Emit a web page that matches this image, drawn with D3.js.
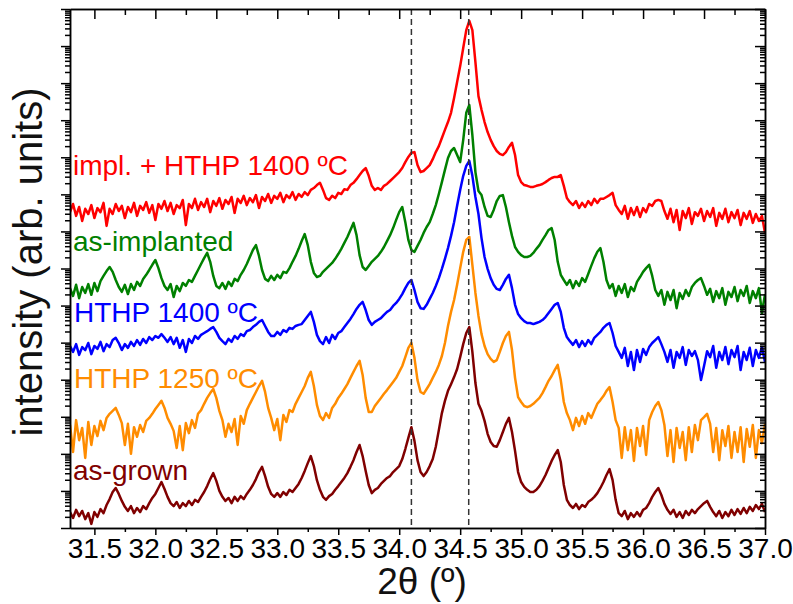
<!DOCTYPE html>
<html>
<head>
<meta charset="utf-8">
<script src="https://cdn.jsdelivr.net/npm/d3@7"></script>
<style>
  body { margin: 0; background: #fff; }
  text { font-family: "Liberation Sans", Arial, sans-serif; }
</style>
</head>
<body>
<svg id="chart"></svg>
<script>
const width = 793;
const height = 604;

// scan: 2theta from 31.3 deg in 0.025 deg steps
const scanStart = 31.3;
const scanStep = 0.025;

const seriesNames = ['as-grown', 'HTHP 1250 ºC', 'HTHP 1400 ºC', 'as-implanted', 'impl. + HTHP 1400 ºC'];

// log10 of intensity (arb. units), curves shifted vertically for clarity
const asGrown = [
    0.43,0.27,0.49,0.32,0.46,0.24,0.40,0.11, 0.43,0.30,0.51,0.40,0.62,0.78,0.97,1.08,
    0.92,0.73,0.57,0.46,0.59,0.40,0.54,0.43, 0.59,0.51,0.67,0.81,0.92,1.08,1.24,1.05,
    0.84,0.67,0.59,0.70,0.54,0.67,0.59,0.73, 0.62,0.76,0.70,0.84,0.97,1.13,1.32,1.48,
    1.27,1.00,0.84,0.73,0.81,0.67,0.84,0.73, 0.86,0.78,0.92,1.03,1.16,1.32,1.51,1.65,
    1.40,1.11,0.92,0.84,0.94,0.84,0.97,0.89, 1.03,0.97,1.08,1.19,1.35,1.54,1.75,1.94,
    1.67,1.29,1.03,0.84,0.76,0.86,0.92,1.03, 1.13,1.24,1.35,1.48,1.65,1.83,2.05,2.24,
    1.94,1.54,1.16,0.94,1.03,1.08,1.19,1.27, 1.35,1.40,1.51,1.59,1.67,1.86,2.13,2.43,
    2.72,2.35,1.83,1.51,1.40,1.51,1.67,1.86, 2.19,2.64,3.10,3.43,3.70,3.88,4.07,4.29,
    4.61,4.96,5.26,5.42,4.75,3.91,3.35,3.16, 2.89,2.54,2.32,2.21,2.19,2.37,2.59,2.81,
    2.97,2.59,2.08,1.51,1.24,1.11,1.03,0.97, 0.97,1.03,1.13,1.27,1.43,1.62,1.81,1.97,
    2.10,1.78,1.16,0.76,0.62,0.54,0.65,0.51, 0.62,0.57,0.70,0.76,0.84,0.94,1.08,1.24,
    1.43,1.59,1.29,0.76,0.40,0.32,0.46,0.24, 0.40,0.30,0.43,0.32,0.49,0.54,0.67,0.84,
    0.97,1.08,0.89,0.65,0.49,0.38,0.49,0.30, 0.43,0.27,0.46,0.35,0.49,0.40,0.51,0.59,
    0.67,0.73,0.57,0.43,0.32,0.46,0.27,0.43, 0.32,0.49,0.35,0.51,0.38,0.54,0.40,0.57,
    0.46,0.62,0.51,0.65,0.43
];
const hthp1250 = [
    2.78,2.05,2.91,2.37,2.70,1.89,2.86,2.24, 2.75,2.48,2.89,2.64,2.97,3.08,3.16,3.24,
    3.05,2.83,2.24,2.81,2.00,2.72,2.46,2.78, 2.59,2.89,2.97,3.08,3.21,3.32,3.43,3.24,
    2.97,2.81,2.62,2.16,2.75,2.10,2.83,2.56, 2.91,2.70,3.08,3.18,3.35,3.51,3.64,3.75,
    3.51,3.16,2.91,2.46,2.81,2.59,2.94,2.24, 3.02,2.81,3.18,3.35,3.51,3.67,3.83,3.97,
    3.67,3.24,2.97,2.64,2.94,2.37,3.05,2.86, 3.18,3.13,3.35,3.51,3.67,3.83,4.05,4.21,
    3.83,3.32,3.02,2.91,3.10,2.97,3.24,3.35, 3.51,3.62,3.75,3.88,4.05,4.21,4.37,4.51,
    4.13,3.51,3.13,3.13,3.29,3.40,3.51,3.62, 3.72,3.83,3.94,4.05,4.21,4.37,4.61,4.86,
    4.99,4.59,3.99,3.67,3.62,3.75,3.88,4.05, 4.21,4.40,4.64,4.99,5.45,5.83,6.15,6.56,
    7.01,7.45,7.77,7.85,7.10,6.34,5.72,5.23, 4.91,4.69,4.56,4.48,4.53,4.75,4.99,5.18,
    5.29,4.80,4.05,3.53,3.40,3.29,3.26,3.29, 3.35,3.43,3.51,3.64,3.80,3.97,4.10,4.26,
    4.40,3.99,3.40,3.10,2.91,2.64,2.97,2.75, 3.02,2.81,3.10,2.97,3.16,3.35,3.45,3.56,
    3.70,3.80,3.40,2.91,2.70,1.89,2.72,2.10, 2.64,1.81,2.70,2.21,2.75,1.97,2.91,3.13,
    3.29,3.40,3.18,2.78,1.94,2.64,1.78,2.70, 2.16,2.59,1.83,2.72,2.05,2.78,2.37,2.91,
    2.99,3.08,2.81,2.05,2.70,1.83,2.64,2.21, 2.75,1.89,2.59,2.05,2.72,1.78,2.67,2.19,
    2.78,1.89,2.64,2.29,2.81
];
const hthp1400 = [
    4.91,4.75,4.96,4.67,4.88,4.80,4.99,4.69, 4.91,4.83,5.02,4.77,4.96,4.88,5.07,5.13,
    4.99,4.80,4.96,4.86,5.02,4.91,5.07,4.94, 5.10,4.99,5.15,5.07,5.18,5.13,5.23,5.13,
    5.02,5.15,4.96,5.13,4.86,5.07,4.75,5.10, 4.99,5.18,5.10,5.21,5.26,5.31,5.37,5.42,
    5.29,5.13,5.04,4.96,5.10,5.02,5.18,5.10, 5.23,5.18,5.31,5.34,5.42,5.48,5.56,5.61,
    5.45,5.29,5.18,5.18,5.29,5.21,5.34,5.29, 5.40,5.37,5.45,5.48,5.50,5.61,5.72,5.83,
    5.56,5.21,5.04,4.96,5.15,4.99,5.21,5.10, 5.26,5.31,5.42,5.53,5.64,5.77,5.91,6.02,
    6.10,5.88,5.61,5.48,5.56,5.61,5.66,5.75, 5.83,5.88,5.99,6.07,6.18,6.31,6.47,6.61,
    6.69,6.42,6.10,5.93,5.91,6.02,6.18,6.34, 6.53,6.74,6.99,7.26,7.55,7.88,8.25,8.69,
    9.12,9.50,9.77,9.90,9.50,8.93,8.47,7.82, 7.31,6.99,6.74,6.56,6.45,6.42,6.56,6.72,
    6.83,6.47,6.02,5.77,5.66,5.58,5.53,5.53, 5.50,5.53,5.56,5.61,5.69,5.80,5.91,6.02,
    6.07,5.83,5.40,5.15,5.04,4.94,5.07,4.88, 5.04,4.91,5.07,4.96,5.13,5.21,5.29,5.40,
    5.48,5.53,5.26,4.91,4.75,4.59,4.86,4.37, 4.75,4.26,4.80,4.48,4.83,4.67,4.88,4.99,
    5.07,5.15,4.96,4.75,4.48,4.80,4.32,4.75, 4.59,4.88,4.40,4.80,4.64,4.77,4.53,3.99,
    4.37,4.77,4.61,4.91,4.32,4.75,4.53,4.88, 4.42,4.80,4.61,4.91,4.26,4.75,4.53,4.86,
    4.37,4.80,4.59,4.88,4.48
];
const asImplanted = [
    6.47,6.26,6.56,6.20,6.50,6.34,6.58,6.29, 6.61,6.39,6.66,6.80,6.93,7.04,6.91,6.69,
    6.50,6.37,6.56,6.31,6.58,6.42,6.64,6.53, 6.72,6.83,6.96,7.10,7.23,7.01,6.74,6.53,
    6.42,6.58,6.23,6.53,6.39,6.61,6.53,6.69, 6.64,6.80,6.96,7.12,7.28,7.42,7.18,6.80,
    6.53,6.47,6.61,6.45,6.64,6.53,6.72,6.66, 6.83,6.96,7.12,7.31,7.50,7.63,7.34,6.96,
    6.72,6.66,6.80,6.69,6.83,6.74,6.91,6.88, 7.01,7.18,7.34,7.53,7.74,7.93,7.63,7.18,
    6.88,6.77,6.80,6.91,6.99,7.07,7.15,7.26, 7.39,7.53,7.69,7.85,8.04,8.23,7.90,7.36,
    7.04,6.96,7.07,7.18,7.26,7.34,7.45,7.58, 7.74,7.90,8.09,8.31,8.52,8.66,8.25,7.77,
    7.50,7.45,7.61,7.77,7.96,8.12,8.25,8.47, 8.71,9.01,9.33,9.66,9.98,10.17,10.25,10.06,
    9.87,10.47,11.20,11.41,10.60,9.60,9.09,8.98, 8.66,8.42,8.39,8.58,8.82,8.96,8.98,8.66,
    8.25,7.88,7.58,7.45,7.36,7.31,7.31,7.34, 7.42,7.53,7.63,7.77,7.90,8.04,8.09,7.77,
    7.18,6.83,6.69,6.56,6.69,6.47,6.66,6.53, 6.74,6.64,6.85,7.07,7.28,7.45,7.55,7.18,
    6.69,6.47,6.58,6.26,6.53,6.34,6.58,6.23, 6.50,6.39,6.64,6.77,6.91,7.01,7.10,6.80,
    6.42,6.26,6.42,6.02,6.37,6.15,6.42,5.93, 6.34,6.18,6.42,6.26,6.50,6.61,6.69,6.74,
    6.53,6.29,6.45,6.10,6.39,6.20,6.47,6.02, 6.37,6.23,6.50,6.12,6.42,6.26,6.53,6.07,
    6.39,6.20,6.47,5.80,6.31
];
const implHthp1400 = [
    8.52,8.74,8.42,8.66,8.28,8.61,8.47,8.71, 8.36,8.63,8.52,8.77,8.15,8.61,8.47,8.74,
    8.55,8.69,8.36,8.66,8.52,8.77,8.42,8.69, 8.58,8.79,8.50,8.71,8.31,8.74,8.61,8.82,
    8.55,8.77,8.47,8.71,8.63,8.85,8.17,8.74, 8.63,8.88,8.58,8.79,8.66,8.88,8.52,8.82,
    8.69,8.90,8.61,8.85,8.74,8.93,8.50,8.88, 8.77,8.96,8.71,8.90,8.79,8.98,8.63,8.93,
    8.82,9.01,8.77,8.96,8.88,9.04,8.79,8.98, 8.90,9.06,8.85,9.01,8.93,9.06,8.98,9.12,
    9.17,9.25,9.31,9.12,8.90,8.85,8.96,8.90, 9.04,9.01,9.14,9.12,9.25,9.31,9.41,9.52,
    9.63,9.71,9.50,9.23,9.12,9.17,9.12,9.23, 9.28,9.36,9.44,9.52,9.60,9.71,9.87,10.01,
    10.12,10.14,9.79,9.60,9.63,9.71,9.79,9.95, 10.14,10.30,10.52,10.74,10.95,11.20,11.60,12.03,
    12.46,12.95,13.43,13.68,13.43,12.57,11.65,11.28, 10.95,10.68,10.47,10.30,10.17,10.09,10.06,10.14,
    10.28,10.39,10.06,9.52,9.33,9.25,9.23,9.20, 9.20,9.23,9.25,9.28,9.33,9.39,9.44,9.47,
    9.47,9.52,9.23,8.90,8.79,8.71,8.82,8.63, 8.77,8.66,8.82,8.71,8.88,8.77,8.88,8.88,
    8.93,8.98,9.04,8.71,8.58,8.47,8.69,8.34, 8.63,8.44,8.66,8.39,8.63,8.52,8.74,8.69,
    8.82,8.85,8.82,8.55,8.34,8.61,8.25,8.58, 8.04,8.55,8.36,8.63,8.20,8.52,8.42,8.61,
    8.28,8.55,8.39,8.63,8.15,8.50,8.34,8.61, 8.25,8.52,8.36,8.58,8.17,8.50,8.34,8.55,
    8.23,8.47,8.28,8.42,7.96
];

const xTickLabels = ['31.5', '32.0', '32.5', '33.0', '33.5', '34.0', '34.5', '35.0', '35.5', '36.0', '36.5', '37.0'];
const markerLines = [34.1, 34.57];

const series = [asGrown, hthp1250, hthp1400, asImplanted, implHthp1400];
const colors = ['#800000', '#ff8c00', '#0000ff', '#008000', '#ff0000'];
const labelPos = [[73, 480], [74, 388], [74, 322], [73, 251], [73, 175]];

const plot = { left: 70, right: 765, top: 9, bottom: 528 };

const svg = d3.select('#chart')
    .attr('width', width)
    .attr('height', height);

const x = d3.scaleLinear().domain([31.3, 37.0]).range([plot.left, plot.right]);
const y = d3.scaleLog().domain([1, 1e14]).range([plot.bottom, plot.top]);

svg.append('clipPath').attr('id', 'clip')
    .append('rect')
    .attr('x', plot.left).attr('y', plot.top)
    .attr('width', plot.right - plot.left)
    .attr('height', plot.bottom - plot.top);

const line = d3.line()
    .x((d, i) => x(scanStart + i * scanStep))
    .y(d => y(Math.pow(10, d)));

const curves = svg.append('g').attr('clip-path', 'url(#clip)');
series.forEach((s, k) => {
    curves.append('path')
        .datum(s)
        .attr('d', line)
        .attr('fill', 'none')
        .attr('stroke', colors[k])
        .attr('stroke-width', 2.5)
        .attr('stroke-linejoin', 'round');
});

// reference lines
svg.selectAll('line.marker')
    .data(markerLines)
    .enter().append('line')
    .attr('class', 'marker')
    .attr('x1', d => x(d)).attr('x2', d => x(d))
    .attr('y1', plot.top).attr('y2', plot.bottom)
    .attr('stroke', '#333')
    .attr('stroke-width', 1.5)
    .attr('stroke-dasharray', '6,4');

// axes
const majorX = xTickLabels.map(Number);
const minorX = majorX.map(d => d + 0.25).filter(d => d < 37);
const logTicks = y.ticks(20);
const majorY = logTicks.filter(d => Math.abs(Math.log10(d) - Math.round(Math.log10(d))) < 1e-9);
const minorY = logTicks.filter(d => !majorY.includes(d));

const styleAxis = g => {
    g.selectAll('path, line').attr('stroke', '#000').attr('stroke-width', 1.5);
    g.selectAll('text').remove();
};

svg.append('g').attr('transform', `translate(0,${plot.bottom})`)
    .call(d3.axisBottom(x).tickValues(minorX).tickSize(4).tickSizeOuter(0))
    .call(styleAxis);
const bottom = svg.append('g').attr('transform', `translate(0,${plot.bottom})`)
    .call(d3.axisBottom(x).tickValues(majorX).tickSize(7).tickSizeOuter(0).tickPadding(3)
        .tickFormat((d, i) => xTickLabels[i]));
bottom.selectAll('path, line').attr('stroke', '#000').attr('stroke-width', 1.5);
bottom.selectAll('text')
    .attr('font-size', 28)
    .attr('font-family', '"Liberation Sans", Arial, sans-serif')
    .attr('fill', '#000');

svg.append('g').attr('transform', `translate(0,${plot.top})`)
    .call(d3.axisTop(x).tickValues(majorX).tickSize(-10).tickSizeOuter(0))
    .call(styleAxis);
svg.append('g').attr('transform', `translate(0,${plot.top})`)
    .call(d3.axisTop(x).tickValues(minorX).tickSize(-6).tickSizeOuter(0))
    .call(styleAxis);

svg.append('g').attr('transform', `translate(${plot.left},0)`)
    .call(d3.axisLeft(y).tickValues(majorY).tickSize(9).tickSizeOuter(0))
    .call(styleAxis);
svg.append('g').attr('transform', `translate(${plot.left},0)`)
    .call(d3.axisLeft(y).tickValues(minorY).tickSize(5).tickSizeOuter(0))
    .call(styleAxis);

svg.append('g').attr('transform', `translate(${plot.right},0)`)
    .call(d3.axisRight(y).tickValues(majorY).tickSize(-10).tickSizeOuter(0))
    .call(styleAxis);
svg.append('g').attr('transform', `translate(${plot.right},0)`)
    .call(d3.axisRight(y).tickValues(minorY).tickSize(-5).tickSizeOuter(0))
    .call(styleAxis);

// series labels
svg.selectAll('text.label')
    .data(seriesNames)
    .enter().append('text')
    .attr('class', 'label')
    .attr('x', (d, i) => labelPos[i][0])
    .attr('y', (d, i) => labelPos[i][1])
    .attr('fill', (d, i) => colors[i])
    .attr('font-size', 28)
    .text(d => d);

// axis titles
svg.append('text')
    .attr('x', 422)
    .attr('y', 594)
    .attr('text-anchor', 'middle')
    .attr('font-size', 37)
    .attr('fill', '#111')
    .text('2θ (º)');

svg.append('text')
    .attr('transform', 'translate(42,262) rotate(-90)')
    .attr('text-anchor', 'middle')
    .attr('font-size', 40)
    .attr('fill', '#111')
    .text('intensity (arb. units)');
</script>
</body>
</html>
